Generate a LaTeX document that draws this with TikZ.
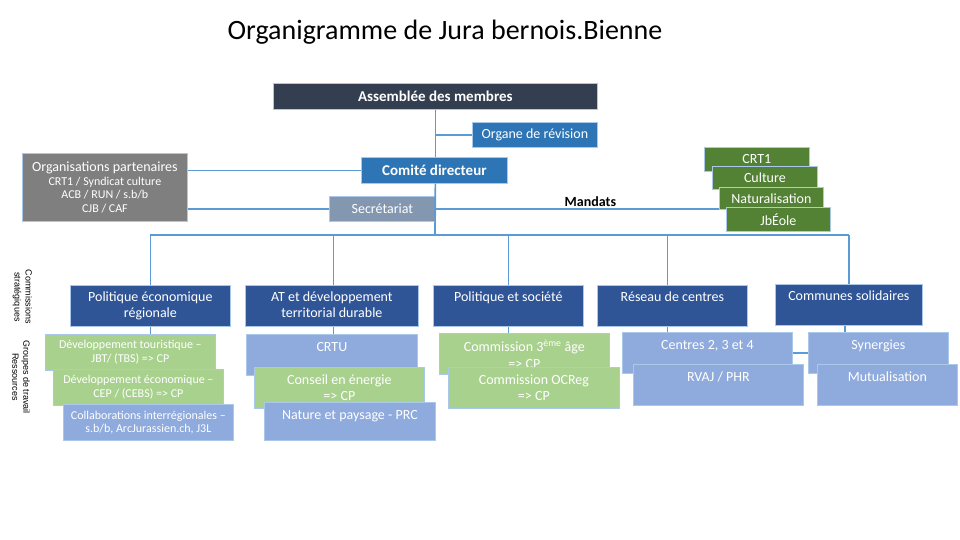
\documentclass[tikz,border=0pt]{standalone}
\usepackage{fontspec}
\setmainfont{Carlito}
\newfontfamily\arialf{Liberation Sans}
\definecolor{assc}{HTML}{333F50}
\definecolor{combl}{HTML}{2E75B6}
\definecolor{grayc}{HTML}{7F7F7F}
\definecolor{secc}{HTML}{8497B0}
\definecolor{dgreen}{HTML}{548235}
\definecolor{navy}{HTML}{2F5597}
\definecolor{lgreen}{HTML}{A9D18E}
\definecolor{lblue}{HTML}{8FAADC}
\definecolor{bordc}{HTML}{A9C8EA}
\definecolor{connc}{HTML}{5B9BD5}
\begin{document}
\begin{tikzpicture}[x=1pt,y=-1pt,
  bx/.style={draw=bordc, line width=0.75pt, inner sep=0pt, anchor=north west, text=white, align=center},
  conn/.style={draw=connc, line width=1.7pt},
  f14/.style={font=\fontsize{14}{16.5}\selectfont},
  f12/.style={font=\fontsize{12}{13.5}\selectfont},
  fb15/.style={font=\bfseries\fontsize{15}{18}\selectfont},
  tl/.style={anchor=north, inner sep=0pt, text=white, align=center, yshift=-5pt, font=\fontsize{14}{16}\selectfont},
  ts/.style={anchor=north, inner sep=0pt, text=white, align=center, yshift=-6.5pt, font=\fontsize{14}{16}\selectfont},
  side/.style={rotate=-90, align=center, text=black, inner sep=0pt, font=\arialf\fontsize{9}{11}\selectfont}
]
\useasboundingbox (0,0) rectangle (960,540);

% title
\node[font=\fontsize{28}{34}\selectfont, text=black] (title) at (445,32) {Organigramme de Jura bernois.Bienne};

% top level
\node[bx, fill=assc, minimum width=324pt, minimum height=26pt, fb15] (ass) at (273,83) {Assemblée des membres};
\node[bx, fill=combl, minimum width=125pt, minimum height=25pt, f14] (org) at (472,122) {Organe de révision};
\node[bx, fill=combl, minimum width=146pt, minimum height=26pt, fb15] (com) at (361,157) {Comité directeur};
\node[bx, fill=grayc, minimum width=165pt, minimum height=68pt, f12] (part) at (22,153)
  {{\fontsize{14}{16}\selectfont Organisations partenaires}\\CRT1 / Syndicat culture\\ACB / RUN / s.b/b\\CJB / CAF};
\node[bx, fill=secc, minimum width=106pt, minimum height=25pt, f14] (sec) at (329,196) {Secrétariat};

% mandats
\node[bx, fill=dgreen, minimum width=105pt, minimum height=24pt, f14] (crt) at (704,147) {CRT1};
\node[bx, fill=dgreen, minimum width=105pt, minimum height=23pt, f14] (cul) at (712,166) {Culture};
\node[bx, fill=dgreen, minimum width=104pt, minimum height=22pt, f14] (natu) at (719,187) {Naturalisation};
\node[bx, fill=dgreen, minimum width=104pt, minimum height=24pt, f14] (jbe) at (726,207) {JbÉole};

% side labels
\node[side] (lab1) at (22.5,297) {Commissions\\stratégiques};
\node[side] (lab2) at (21,377) {Groupes de travail\\Ressources};

% commissions
\node[bx, fill=navy, minimum width=160pt, minimum height=41pt,
  label={[tl]north:{\rule{0pt}{11pt}Politique économique\\régionale}}] (p1) at (70,285) {};
\node[bx, fill=navy, minimum width=173pt, minimum height=41pt,
  label={[tl]north:{\rule{0pt}{11pt}AT et développement\\territorial durable}}] (p2) at (245,285) {};
\node[bx, fill=navy, minimum width=150pt, minimum height=41pt,
  label={[tl]north:{\rule{0pt}{11pt}Politique et société}}] (p3) at (433,285) {};
\node[bx, fill=navy, minimum width=150pt, minimum height=41pt,
  label={[tl]north:{\rule{0pt}{11pt}Réseau de centres}}] (p4) at (597,285) {};
\node[bx, fill=navy, minimum width=147pt, minimum height=41pt,
  label={[tl]north:{\rule{0pt}{11pt}Communes solidaires}}] (p5) at (775,284) {};

% column 1
\node[bx, fill=lgreen, minimum width=170pt, minimum height=36pt, f12] (d1) at (45,334) {Développement touristique –\\JBT/ (TBS) => CP};
\node[bx, fill=lgreen, minimum width=170pt, minimum height=36pt, f12] (d2) at (53,369) {Développement économique –\\CEP / (CEBS) => CP};
\node[bx, fill=lblue, minimum width=170pt, minimum height=36pt, f12] (d3) at (63,404) {Collaborations interrégionales –\\s.b/b, ArcJurassien.ch, J3L};

% column 2
\node[bx, fill=lblue, minimum width=171pt, minimum height=41pt,
  label={[ts]north:{\rule{0pt}{11pt}CRTU}}] (crtu) at (246,334) {};
\node[bx, fill=lgreen, minimum width=170pt, minimum height=41pt, f14] (cons) at (254,367) {Conseil en énergie\\=> CP};
\node[bx, fill=lblue, minimum width=171pt, minimum height=38pt,
  label={[ts]north:{\rule{0pt}{11pt}Nature et paysage - PRC}}] (natp) at (264,402) {};

% column 3
\node[bx, fill=lgreen, minimum width=170pt, minimum height=41pt, f14] (com3) at (439,333) {Commission 3\textsuperscript{ème} âge\\=> CP};
\node[bx, fill=lgreen, minimum width=171pt, minimum height=41pt, f14] (ocr) at (448,367) {Commission OCReg\\=> CP};

% column 4
\node[bx, fill=lblue, minimum width=170pt, minimum height=41pt,
  label={[ts]north:{\rule{0pt}{11pt}Centres 2, 3 et 4}}] (cen) at (622,332) {};
\node[bx, fill=lblue, minimum width=170pt, minimum height=41pt,
  label={[ts]north:{\rule{0pt}{11pt}RVAJ / PHR}}] (rvaj) at (633,364) {};

% column 5
\node[bx, fill=lblue, minimum width=140pt, minimum height=41pt,
  label={[ts]north:{\rule{0pt}{11pt}Synergies}}] (syn) at (808,332) {};
\node[bx, fill=lblue, minimum width=140pt, minimum height=41pt,
  label={[ts]north:{\rule{0pt}{11pt}Mutualisation}}] (mut) at (817,364) {};

% connectors
\coordinate (bus) at (435,235);
\draw[conn] (ass.south) -- (ass.south |- com.north);
\draw[conn] (ass.south |- org.west) -- (org.west);
\draw[conn] (ass.south |- com.south) -- (bus);
\draw[conn] (com.west) -- (com.west -| part.east);
\draw[conn] (sec.west) -- (sec.west -| part.east);
\draw[conn] (sec.east) -- node[pos=0.546, above, inner sep=1.5pt, text=black, font=\bfseries\fontsize{14}{16}\selectfont] (mand) {Mandats} (sec.east -| natu.west);
\draw[conn] (bus -| p1.north) -- (bus -| p5.north);
\draw[conn] (bus -| p1.north) -- (p1.north);
\draw[conn] ([xshift=1.5pt]bus -| p2.north) -- ([xshift=1.5pt]p2.north);
\draw[conn] (bus -| p3.north) -- (p3.north);
\draw[conn] ([xshift=-5pt]bus -| p4.north) -- ([xshift=-5pt]p4.north);
\draw[conn] (bus -| p5.north) -- (p5.north);
\draw[conn] (p1.south) -- (p1.south |- d1.north);
\draw[conn] ([xshift=1.5pt]p2.south) -- ([xshift=1.5pt]p2.south |- crtu.north);
\draw[conn] (p3.south) -- (p3.south |- com3.north);
\draw[conn] ([xshift=-5pt]p4.south) -- ([xshift=-5pt]p4.south |- cen.north);
\draw[conn] ([xshift=-4pt]p5.south) -- ([xshift=-4pt]p5.south |- syn.north);
\draw[conn] (cen.east) -- (syn.west);
\end{tikzpicture}
\end{document}
